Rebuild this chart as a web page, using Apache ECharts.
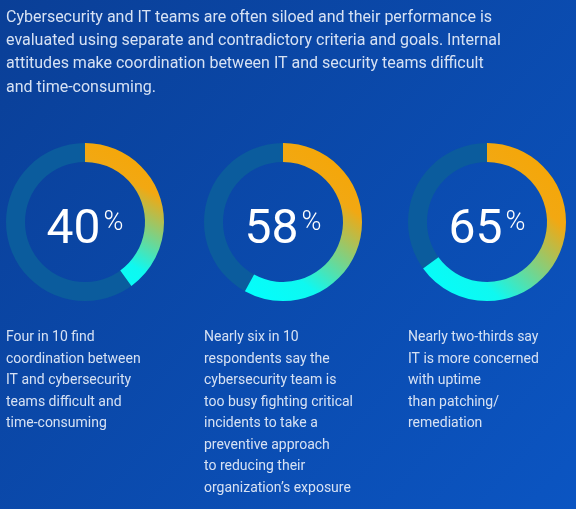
<!DOCTYPE html>
<html>
<head>
<meta charset="utf-8">
<script src="https://cdn.jsdelivr.net/npm/echarts@6/dist/echarts.min.js"></script>
<style>
  html, body { margin: 0; padding: 0; background: #0a47a6; }
  #chart { width: 576px; height: 509px; }
</style>
</head>
<body>
<div id="chart"></div>
<script>
// share of respondents, one ring each
const values = [40, 58, 65]
const intro = [
    'Cybersecurity and IT teams are often siloed and their performance is',
    'evaluated using separate and contradictory criteria and goals. Internal',
    'attitudes make coordination between IT and security teams difficult',
    'and time-consuming.'
]
const captions = [
    ['Four in 10 find', 'coordination between', 'IT and cybersecurity', 'teams difficult and', 'time-consuming'],
    ['Nearly six in 10', 'respondents say the', 'cybersecurity team is', 'too busy fighting critical', 'incidents to take a', 'preventive approach', 'to reducing their', 'organization\u2019s exposure'],
    ['Nearly two-thirds say', 'IT is more concerned', 'with uptime', 'than patching/', 'remediation']
]

const ringX = [85, 283, 487]
const colX = [6, 204, 408]
const textColor = '#d6e1f3'

const chart = echarts.init(document.getElementById('chart'))

const arcColor = new echarts.graphic.LinearGradient(1, 0, 0, 1, [
    {offset: 0, color: '#f7a500'},
    {offset: 0.3, color: '#f2a812'},
    {offset: 0.75, color: '#0ff8f0'},
    {offset: 1, color: '#00ffff'}
])

const series = values.map((v, i) => ({
    type: 'gauge',
    center: [ringX[i], 222],
    radius: 79,
    startAngle: 90,
    endAngle: -270,
    min: 0,
    max: 100,
    pointer: {show: false},
    axisLine: {lineStyle: {width: 19, color: [[1, '#0b5c9d']]}},
    progress: {show: true, width: 19, itemStyle: {color: arcColor}},
    axisTick: {show: false},
    splitLine: {show: false},
    axisLabel: {show: false},
    title: {show: false},
    detail: {
        offsetCenter: [0, 9],
        formatter: '{v|{value}}{p|%}',
        rich: {
            v: {fontSize: 48, fontFamily: 'Roboto', fontWeight: 400, color: '#ffffff', lineHeight: 50},
            p: {fontSize: 27, fontFamily: 'Roboto', fontWeight: 300, color: '#ffffff',
                verticalAlign: 'top', lineHeight: 42, padding: [4, 0, 0, 3]}
        }
    },
    data: [{value: v}]
}))

const graphics = [{
    type: 'text',
    left: 6,
    top: 6,
    style: {
        text: intro.join('\n'),
        fill: textColor,
        font: '16px Roboto',
        lineHeight: 23.3
    }
}].concat(captions.map((lines, i) => ({
    type: 'text',
    left: colX[i],
    top: 327,
    style: {
        text: lines.join('\n'),
        fill: textColor,
        font: '14px Roboto',
        lineHeight: 21.5
    }
})))

chart.setOption({
    backgroundColor: new echarts.graphic.LinearGradient(0, 0, 1, 1, [
        {offset: 0, color: '#0a3f97'},
        {offset: 1, color: '#0b55c2'}
    ]),
    graphic: graphics,
    series: series
})
</script>
</body>
</html>
